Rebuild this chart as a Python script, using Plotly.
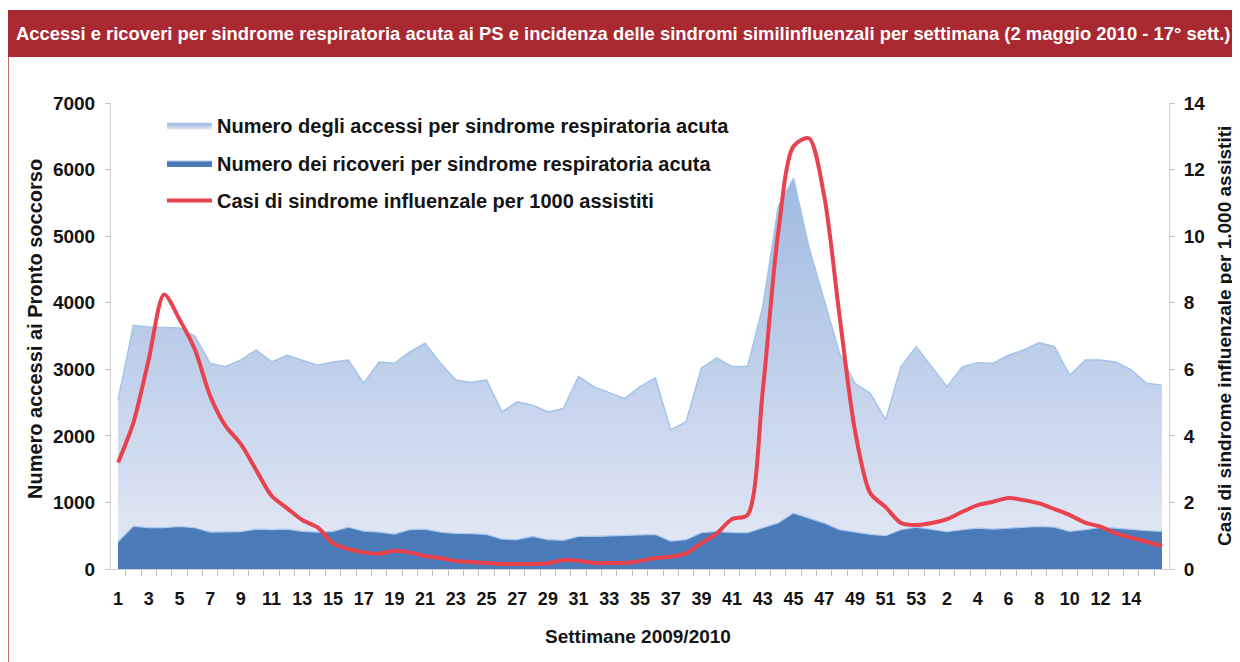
import plotly.graph_objects as go

# ---------------- data ----------------
week_labels = [
    "1", "2", "3", "4", "5", "6", "7", "8", "9", "10", "11", "12", "13", "14", "15", "16", "17", "18",
    "19", "20", "21", "22", "23", "24", "25", "26", "27", "28", "29", "30", "31", "32", "33", "34", "35",
    "36", "37", "38", "39", "40", "41", "42", "43", "44", "45", "46", "47", "48", "49", "50", "51", "52", "53",
    "1", "2", "3", "4", "5", "6", "7", "8", "9", "10", "11", "12", "13", "14", "15", "16",
]

accessi = [
    2540, 3660, 3635, 3630, 3620, 3500, 3090, 3040, 3140, 3290, 3110, 3210, 3140, 3060, 3110, 3140, 2790, 3110,
    3090, 3260, 3390, 3090, 2840, 2800, 2840, 2360, 2510, 2460, 2360, 2410, 2890, 2740, 2650, 2560, 2740,
    2870, 2090, 2210, 3020, 3170, 3040, 3040, 3940, 5440, 5870, 4840, 4040, 3240, 2790, 2640, 2240, 3040, 3340,
    3040, 2740, 3040, 3100, 3090, 3210, 3290, 3400, 3340, 2910, 3140, 3140, 3110, 2990, 2790, 2760,
]

ricoveri = [
    410, 645, 620, 620, 640, 620, 555, 555, 560, 600, 590, 600, 565, 555, 565, 630, 570, 555,
    525, 590, 600, 555, 535, 530, 520, 450, 440, 490, 440, 430, 490, 490, 500, 510, 520,
    520, 420, 440, 545, 565, 545, 545, 620, 690, 840, 765, 690, 590, 555, 520, 500, 590, 630,
    590, 560, 590, 615, 600, 615, 625, 640, 630, 565, 590, 625, 615, 590, 575, 565,
]

ili = [
    3.2, 4.4, 6.3, 8.25, 7.5, 6.6, 5.2, 4.3, 3.75, 2.97, 2.2, 1.83, 1.47, 1.25, 0.77, 0.6, 0.5, 0.46,
    0.55, 0.5, 0.39, 0.33, 0.24, 0.21, 0.18, 0.15, 0.15, 0.15, 0.17, 0.27, 0.25, 0.18, 0.18, 0.18, 0.24,
    0.33, 0.37, 0.47, 0.77, 1.07, 1.5, 1.62, 5.37, 10.1, 12.7, 12.94, 11.2, 7.6, 4.17, 2.28, 1.86, 1.38, 1.32,
    1.38, 1.5, 1.72, 1.92, 2.02, 2.13, 2.07, 1.97, 1.8, 1.62, 1.39, 1.27, 1.07, 0.94, 0.82, 0.69,
]

x = list(range(len(week_labels)))
# every other category is labelled; the last one (16) is not shown in the original
tick_vals = [i for i in x if i % 2 == 0 and i < len(x) - 1]
tick_text = [week_labels[i] for i in tick_vals]

FONT = "Liberation Sans, Arial, Helvetica, sans-serif"
TXT = "#141414"

fig = go.Figure()

fig.add_trace(go.Scatter(
    x=x, y=accessi, mode="lines",
    name="Numero degli accessi per sindrome respiratoria acuta",
    legendgroup="a",
    line=dict(color="#a4c4ea", width=1.5),
    fill="tozeroy",
    fillgradient=dict(type="vertical", start=0, stop=6000,
                      colorscale=[[0, "#e6eaf5"], [0.5, "#c0d0eb"], [1, "#9fb9e0"]]),
    hoverinfo="skip",
))

fig.add_trace(go.Scatter(
    x=x, y=ricoveri, mode="lines",
    name="Numero dei ricoveri per sindrome respiratoria acuta",
    legendgroup="b",
    line=dict(color="#a9c9ee", width=1.2),
    fill="tozeroy", fillcolor="#4a7bb8",
    hoverinfo="skip",
))

fig.add_trace(go.Scatter(
    x=x, y=ili, mode="lines", yaxis="y2",
    name="Casi di sindrome influenzale per 1000 assistiti",
    legendgroup="c",
    line=dict(color="#e8424f", width=4, shape="spline", smoothing=0.8),
    hoverinfo="skip",
))

# The page body has an 8px margin, so the figure starts at screen (8, 8).
OFF = 8
W, H = 1240 - OFF, 662 - OFF
# plot area in screen pixels: x 111..1169, y 103..569
SL, SR, ST, SB = 111, 1169, 103, 569
L, R, T, B = SL - OFF, SR - OFF, ST - OFF, SB - OFF


def px(xs):
    return (xs - SL) / (SR - SL)


def py(ys):
    return (SB - ys) / (SB - ST)


bold = dict(family=FONT, color=TXT, weight="bold")

fig.update_layout(
    width=W, height=H,
    margin=dict(l=L, r=W - R, t=T, b=H - B, autoexpand=False),
    paper_bgcolor="white", plot_bgcolor="white",
    font=dict(family=FONT, color=TXT, size=18),
    showlegend=True,
    legend=dict(
        x=px(162), y=py(106), xanchor="left", yanchor="top",
        bgcolor="rgba(0,0,0,0)",
        font=dict(size=20, **bold),
        tracegroupgap=8.5, itemwidth=45,
        traceorder="grouped",
    ),
    xaxis=dict(
        range=[-0.46, 68.46], automargin=False,
        tickmode="array", tickvals=tick_vals, ticktext=tick_text,
        ticks="", ticklen=6,
        minor=dict(tickmode="linear", tick0=-0.5, dtick=1, ticks="outside", ticklen=6,
                   tickcolor="#c4c4c4", tickwidth=1, showgrid=False),
        showline=True, linecolor="#d0d0d0", linewidth=1,
        showgrid=False, zeroline=False,
        tickfont=dict(size=18, **bold),
        ticklabelstandoff=13,
    ),
    yaxis=dict(
        range=[0, 7000], automargin=False,
        tickmode="array", tickvals=[0, 1000, 2000, 3000, 4000, 5000, 6000, 7000],
        ticks="outside", ticklen=5, tickcolor="#c4c4c4",
        showline=True, linecolor="#d0d0d0", linewidth=1,
        showgrid=False, zeroline=False,
        tickfont=dict(size=19, **bold),
        ticklabelstandoff=6,
    ),
    yaxis2=dict(
        range=[0, 14], automargin=False,
        tickmode="array", tickvals=[0, 2, 4, 6, 8, 10, 12, 14],
        overlaying="y", side="right",
        ticks="outside", ticklen=5, tickcolor="#c4c4c4",
        showline=True, linecolor="#d0d0d0", linewidth=1,
        showgrid=False, zeroline=False,
        tickfont=dict(size=19, **bold),
        ticklabelstandoff=5,
    ),
    shapes=[
        dict(type="rect", xref="paper", yref="paper",
             x0=px(8), x1=px(1240), y0=py(57), y1=py(10),
             fillcolor="#aa2830", line=dict(width=0), layer="above"),
        dict(type="line", xref="paper", yref="paper",
             x0=px(8), x1=px(8), y0=py(57), y1=py(662),
             line=dict(color="#b8323a", width=1.5)),
    ],
    annotations=[
        dict(text="Accessi e ricoveri per sindrome respiratoria acuta ai PS e incidenza delle sindromi "
                  "similinfluenzali per settimana (2 maggio 2010 - 17° sett.)",
             xref="paper", yref="paper", x=px(14), y=py(33), xanchor="left", yanchor="middle",
             showarrow=False,
             font=dict(family=FONT, size=18.4, color="white", weight="bold")),
        dict(text="Numero accessi ai Pronto soccorso", textangle=-90,
             xref="paper", yref="paper", x=px(35), y=py(329), xanchor="center", yanchor="middle",
             showarrow=False, font=dict(size=20, **bold)),
        dict(text="Casi di sindrome influenzale per 1.000 assistiti", textangle=-90,
             xref="paper", yref="paper", x=px(1224), y=py(336), xanchor="center", yanchor="middle",
             showarrow=False, font=dict(size=19, **bold)),
        dict(text="Settimane 2009/2010",
             xref="paper", yref="paper", x=px(638), y=py(636), xanchor="center", yanchor="middle",
             showarrow=False, font=dict(size=19, **bold)),
    ],
)

fig.write_html("out.html")
